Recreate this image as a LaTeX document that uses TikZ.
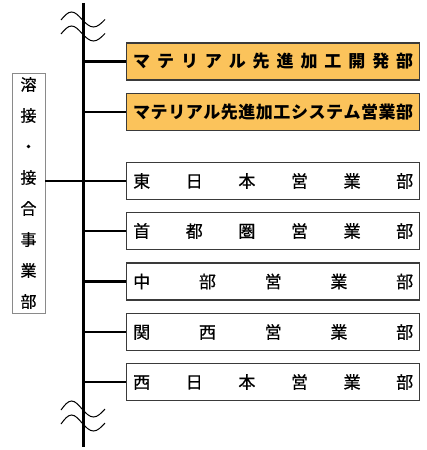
\documentclass[tikz,border=0pt]{standalone}
\usepackage{fontspec}
\setmainfont{Noto Sans CJK JP}
\newfontfamily\jpmed{Noto Sans CJK JP}[FakeBold=0.6]
\definecolor{orangefill}{HTML}{FBC35B}
\definecolor{boxline}{HTML}{3A3A3A}
\definecolor{headline}{HTML}{8A8A8A}
\begin{document}
\begin{tikzpicture}[x=1bp,y=-1bp,
  unit/.style={draw=boxline, line width=1.4bp, minimum width=293bp, minimum height=37bp,
    inner sep=0pt, anchor=west, font=\fontsize{17bp}{20bp}\jpmed},
  hq/.style={unit, fill=orangefill, font=\fontsize{17bp}{20bp}\selectfont\bfseries},
  link/.style={line width=2.2bp, black},
  wave/.style={line width=1bp, black}]
\useasboundingbox (0,0) rectangle (426,450);
\fill[white] (0,0) rectangle (426,450);
\coordinate (top) at (83.5,3);
\coordinate (bot) at (83.5,447);
\draw[link] (top) -- (bot);
% waves
\draw[wave] (61,20) sin (71.5,12) cos (82,19.5) sin (93.5,27) cos (105,19.5);
\draw[wave] (61,34) sin (71.5,26) cos (82,33.5) sin (93.5,41) cos (105,33.5);
\draw[wave] (61,410) sin (71.5,401) cos (82,409) sin (93.5,417) cos (105,409);
\draw[wave] (61,424) sin (71.5,415) cos (82,423) sin (93.5,431) cos (105,423);
% units
\node[hq] (d1) at (126,61.5) {\hbox to 280bp{マ\hfill テ\hfill リ\hfill ア\hfill ル\hfill 先\hfill 進\hfill 加\hfill 工\hfill 開\hfill 発\hfill 部}};
\node[hq] (d2) at (126,112) {\hbox to 280bp{マ\hfill テ\hfill リ\hfill ア\hfill ル\hfill 先\hfill 進\hfill 加\hfill 工\hfill シ\hfill ス\hfill テ\hfill ム\hfill 営\hfill 業\hfill 部}};
\node[unit] (d3) at (126,181) {\hbox to 280bp{東\hfill 日\hfill 本\hfill 営\hfill 業\hfill 部}};
\node[unit] (d4) at (126,231) {\hbox to 280bp{首\hfill 都\hfill 圏\hfill 営\hfill 業\hfill 部}};
\node[unit] (d5) at (126,281.5) {\hbox to 280bp{中\hfill 部\hfill 営\hfill 業\hfill 部}};
\node[unit] (d6) at (126,332) {\hbox to 280bp{関\hfill 西\hfill 営\hfill 業\hfill 部}};
\node[unit] (d7) at (126,382) {\hbox to 280bp{西\hfill 日\hfill 本\hfill 営\hfill 業\hfill 部}};
\foreach \d in {d1,d2,d3,d4,d5,d6,d7} \draw[link] (\d.west -| top) -- (\d.west);
% head
\node[draw=headline, line width=0.9bp, minimum width=33bp, minimum height=240bp, inner sep=0pt,
  align=center, font=\fontsize{16bp}{31bp}\jpmed] (hd) at (28.5,193)
  {溶\\接\\・\\接\\合\\事\\業\\部};
\draw[link] (hd.east |- d3.west) -- (d3.west -| top);
\end{tikzpicture}
\end{document}
